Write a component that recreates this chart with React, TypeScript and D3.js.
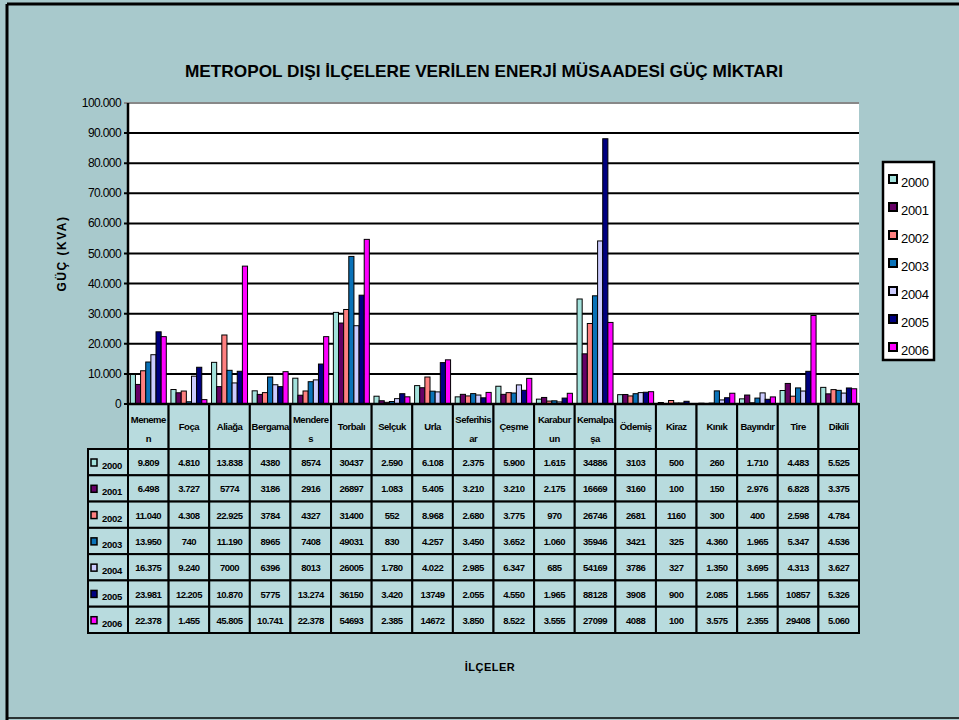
import React from "react";
import { scaleBand, scaleLinear, formatLocale, range } from "d3";

const categories = [
  "Meneme\nn", "Foça", "Aliağa", "Bergama", "Mendere\ns", "Torbalı",
  "Selçuk", "Urla", "Seferihis\nar", "Çeşme", "Karabur\nun", "Kemalpa\nşa",
  "Ödemiş", "Kiraz", "Kınık", "Bayındır", "Tire", "Dikili",
];
const years = ["2000", "2001", "2002", "2003", "2004", "2005", "2006"];

// table text as printed; bar heights are the same numbers with the dots removed
const v2000 = ["9.809", "4.810", "13.838", "4380", "8574", "30437", "2.590", "6.108", "2.375", "5.900", "1.615", "34886", "3103", "500", "260", "1.710", "4.483", "5.525"];
const v2001 = ["6.498", "3.727", "5774", "3186", "2916", "26897", "1.083", "5.405", "3.210", "3.210", "2.175", "16669", "3160", "100", "150", "2.976", "6.828", "3.375"];
const v2002 = ["11.040", "4.308", "22.925", "3784", "4327", "31400", "552", "8.968", "2.680", "3.775", "970", "26746", "2681", "1160", "300", "400", "2.598", "4.784"];
const v2003 = ["13.950", "740", "11.190", "8965", "7408", "49031", "830", "4.257", "3.450", "3.652", "1.060", "35946", "3421", "325", "4.360", "1.965", "5.347", "4.536"];
const v2004 = ["16.375", "9.240", "7000", "6396", "8013", "26005", "1.780", "4.022", "2.985", "6.347", "685", "54169", "3786", "327", "1.350", "3.695", "4.313", "3.627"];
const v2005 = ["23.981", "12.205", "10.870", "5775", "13.274", "36150", "3.420", "13749", "2.055", "4.550", "1.965", "88128", "3908", "900", "2.085", "1.565", "10857", "5.326"];
const v2006 = ["22.378", "1.455", "45.805", "10.741", "22.378", "54693", "2.385", "14672", "3.850", "8.522", "3.555", "27099", "4088", "100", "3.575", "2.355", "29408", "5.060"];
const yTicks = [0, 10000, 20000, 30000, 40000, 50000, 60000, 70000, 80000, 90000, 100000];

const series = [v2000, v2001, v2002, v2003, v2004, v2005, v2006];
const colors = ["#a3e2dc", "#660066", "#ff8080", "#0a72b8", "#ccccff", "#000080", "#ff00ff"];

const W = 959;
const H = 720;
const left = 128;
const right = 859;
const top = 103;
const bottom = 404;
const headerBottom = 449;
const tableBottom = 633;
const bg = "#a8c9cc";
const cellFill = "#b8dbde";
const font = "Liberation Sans, Arial, sans-serif";

const fmt = formatLocale({ decimal: ",", thousands: ".", grouping: [3], currency: ["", ""] }).format(",");
const toNum = (s: string) => +s.replace(/\./g, "");

export default function App() {
  const x = scaleBand<string>().domain(categories).range([left, right]);
  const inner = scaleBand<string>().domain(years).range([0, x.bandwidth()]).paddingOuter(0.45);
  const y = scaleLinear().domain([0, 100000]).range([bottom, top]);
  const rowY = scaleBand<string>().domain(years).range([headerBottom, tableBottom]);

  return (
    <svg width={W} height={H} style={{ position: "absolute", left: 0, top: 0 }} fontFamily={font}>
      <rect width={W} height={H} fill={bg} />
      <line x1={7} y1={4} x2={W} y2={4} stroke="#000" strokeWidth={3} />
      <line x1={7} y1={4} x2={7} y2={H} stroke="#000" strokeWidth={3} />
      <line x1={7} y1={718} x2={W} y2={718} stroke="#000" strokeWidth={1.5} />

      <text x={484} y={77} textAnchor="middle" fontWeight="bold" fontSize={17} textLength={598} lengthAdjust="spacingAndGlyphs">
        METROPOL DIŞI İLÇELERE VERİLEN ENERJİ MÜSAADESİ GÜÇ MİKTARI
      </text>

      {/* plot area */}
      <rect x={left} y={top} width={right - left} height={bottom - top} fill="#fff" />
      {yTicks.map((t) => (
        <g key={t}>
          <line x1={left - 4} x2={right} y1={y(t)} y2={y(t)} stroke={t === 100000 ? "#888" : "#000"} strokeWidth={2} />
          <text x={121} y={y(t) + 4} textAnchor="end" fontSize={12} letterSpacing={-0.6}>
            {fmt(t)}
          </text>
        </g>
      ))}
      <line x1={left} x2={left} y1={top} y2={bottom} stroke="#000" strokeWidth={2.5} />
      <text transform={`translate(66,${(top + bottom) / 2}) rotate(-90)`} textAnchor="middle" fontWeight="bold" fontSize={12} letterSpacing={1.5}>
        GÜÇ (KVA)
      </text>

      {series.map((vals, si) =>
        vals.map((s, ci) => {
          const v = toNum(s);
          return (
            <rect
              key={`${si}-${ci}`}
              x={x(categories[ci])! + inner(years[si])!}
              y={y(v)}
              width={inner.bandwidth()}
              height={bottom - y(v)}
              fill={colors[si]}
              stroke="#000"
              strokeWidth={1}
            />
          );
        })
      )}

      {/* data table */}
      {categories.map((c) => {
        const lines = c.split("\n");
        const cx = x(c)! + x.bandwidth() / 2;
        return (
          <g key={c}>
            <rect x={x(c)} y={bottom} width={x.bandwidth()} height={headerBottom - bottom} fill={cellFill} stroke="#000" strokeWidth={2} />
            {lines.map((l, i) => (
              <text
                key={i}
                x={cx}
                y={lines.length === 1 ? 430 : 423 + i * 19}
                textAnchor="middle"
                fontWeight="bold"
                fontSize={9.5}
                letterSpacing={-0.5}
              >
                {l}
              </text>
            ))}
          </g>
        );
      })}
      {years.map((yr, si) => (
        <g key={yr}>
          <rect x={88} y={rowY(yr)} width={left - 88} height={rowY.bandwidth()} fill={cellFill} stroke="#000" strokeWidth={2} />
          <rect x={91} y={rowY(yr)! + 10} width={6} height={7} fill={colors[si]} stroke="#000" strokeWidth={1.5} />
          <text x={102} y={rowY(yr)! + 20} fontWeight="bold" fontSize={9.5} letterSpacing={-0.3}>
            {yr}
          </text>
          {series[si].map((s, ci) => (
            <g key={ci}>
              <rect x={x(categories[ci])} y={rowY(yr)} width={x.bandwidth()} height={rowY.bandwidth()} fill={cellFill} stroke="#000" strokeWidth={2} />
              <text x={x(categories[ci])! + x.bandwidth() / 2} y={rowY(yr)! + rowY.bandwidth() / 2 + 4} textAnchor="middle" fontWeight="bold" fontSize={9.5} letterSpacing={-0.5}>
                {s}
              </text>
            </g>
          ))}
        </g>
      ))}
      <line x1={left} x2={right} y1={bottom} y2={bottom} stroke="#000" strokeWidth={2.5} />

      <text x={490} y={671} textAnchor="middle" fontWeight="bold" fontSize={11} letterSpacing={0.5}>
        İLÇELER
      </text>

      {/* legend */}
      <rect x={883} y={162} width={51} height={198} fill="#fff" stroke="#000" strokeWidth={2.5} />
      {years.map((yr, i) => {
        const ly = 181 + range(7)[i] * 28;
        return (
          <g key={yr}>
            <rect x={889} y={ly - 6} width={8} height={8} fill={colors[i]} stroke="#000" strokeWidth={2} />
            <text x={901} y={ly + 6} fontSize={13} letterSpacing={-0.3}>
              {yr}
            </text>
          </g>
        );
      })}
    </svg>
  );
}
